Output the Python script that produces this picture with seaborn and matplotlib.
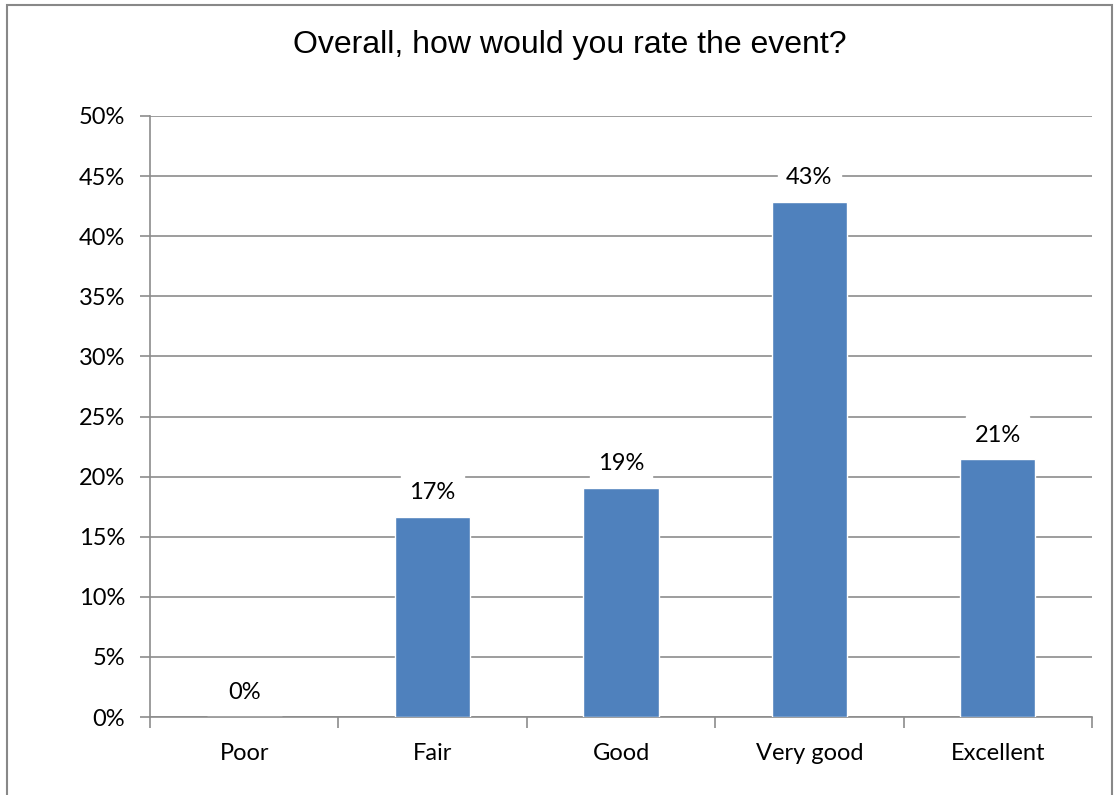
import matplotlib
matplotlib.use("Agg")
import matplotlib.pyplot as plt
import seaborn as sns
import pandas as pd
from matplotlib.patches import Rectangle
from matplotlib.ticker import FuncFormatter, FixedLocator

# survey answers (share of respondents)
ratings = ["Poor", "Fair", "Good", "Very good", "Excellent"]
shares = [0.0, 0.1667, 0.1905, 0.4286, 0.2143]
labels = ["0%", "17%", "19%", "43%", "21%"]
yticks = [0, 0.05, 0.10, 0.15, 0.20, 0.25, 0.30, 0.35, 0.40, 0.45, 0.50]

df = pd.DataFrame({"rating": ratings, "share": shares})

sns.set_style("white")
plt.rcParams["font.family"] = ["Lato", "DejaVu Sans"]
plt.rcParams["text.color"] = "black"
plt.rcParams["xtick.labelcolor"] = "black"
plt.rcParams["ytick.labelcolor"] = "black"

fig = plt.figure(figsize=(11.17, 7.95), dpi=100)
ax = fig.add_axes([150 / 1117, 78 / 795, 942 / 1117, 601 / 795])

grid_col = "#8c8c8c"

sns.barplot(data=df, x="rating", y="share", order=ratings, color="#4F81BD",
            width=0.4, saturation=1, ax=ax, zorder=3)

ax.set_xlim(-0.5, 4.5)
ax.set_ylim(0, 0.5)
ax.set_yticks(yticks)
ax.yaxis.set_major_formatter(FuncFormatter(lambda v, p: f"{v * 100:.0f}%"))
ax.grid(axis="y", color=grid_col, linewidth=1.2, zorder=0)
ax.set_axisbelow(True)

# category labels centred, tick marks on the boundaries
ax.xaxis.set_minor_locator(FixedLocator([-0.5, 0.5, 1.5, 2.5, 3.5, 4.5]))
ax.tick_params(axis="x", which="major", length=0, pad=19, labelsize=17)
ax.tick_params(axis="x", which="minor", length=8, width=1.2, color=grid_col,
               direction="out", bottom=True)
ax.tick_params(axis="y", length=7, width=1.2, color=grid_col, direction="out",
               left=True, pad=11, labelsize=17)

for side in ["top", "right"]:
    ax.spines[side].set_visible(False)
for side in ["left", "bottom"]:
    ax.spines[side].set_color(grid_col)
    ax.spines[side].set_linewidth(1.2)

ax.set_xlabel("")
ax.set_ylabel("")

texts = ax.bar_label(ax.containers[0], labels=labels, padding=10, fontsize=17)
for t in texts:
    t.set_bbox(dict(facecolor="white", edgecolor="white", pad=6))
    t.set_zorder(5)

fig.text(0.51, 1 - 45 / 795, "Overall, how would you rate the event?",
         ha="center", va="center", fontsize=23, family=["Liberation Sans", "DejaVu Sans"])

# chart border
fig.patches.append(Rectangle((7 / 1117, -0.02), 1105 / 1117, 1 - 5 / 795 + 0.02,
                             transform=fig.transFigure, fill=False,
                             edgecolor="#888888", linewidth=1.5))

fig.savefig("out.png", dpi=100)
